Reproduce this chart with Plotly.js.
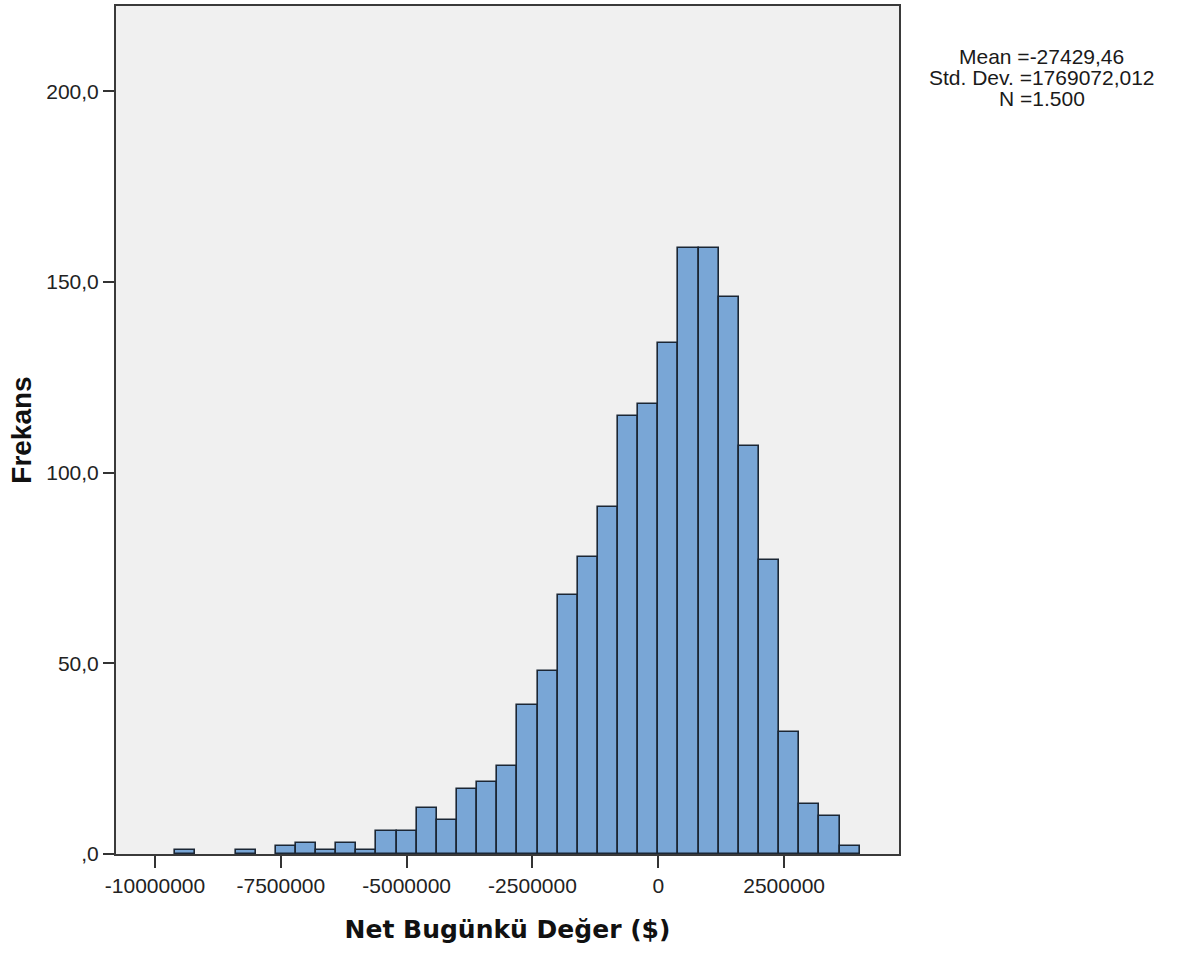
<!DOCTYPE html>
<html>
<head>
<meta charset="utf-8">
<script src="https://cdn.plot.ly/plotly-3.0.1.min.js"></script>
<style>
  html, body { margin: 0; padding: 0; background: #ffffff; }
  #chart { width: 1177px; height: 953px; }
</style>
</head>
<body>
<div id="chart"></div>
<script>
// Lower edges of the histogram bins (Net Bugünkü Değer, $)
const binLowerEdges = [
  -10000000, -9600000, -9200000, -8800000, -8400000, -8000000, -7600000,
  -7200000, -6800000, -6400000, -6000000, -5600000, -5200000, -4800000,
  -4400000, -4000000, -3600000, -3200000, -2800000, -2400000, -2000000,
  -1600000, -1200000, -800000, -400000, 0, 400000, 800000, 1200000,
  1600000, 2000000, 2400000, 2800000, 3200000, 3600000
];
const binWidth = 400000;
// Frequencies per bin
const frequencies = [
  0, 1, 0, 0, 1, 0, 2,
  3, 1, 3, 1, 6, 6, 12,
  9, 17, 19, 23, 39, 48, 68,
  78, 91, 115, 118, 134, 159, 159, 146,
  107, 77, 32, 13, 10, 2
];
// Axis ticks
const xTickValues = [-10000000, -7500000, -5000000, -2500000, 0, 2500000];
const xTickLabels = ["-10000000", "-7500000", "-5000000", "-2500000", "0", "2500000"];
const yTickValues = [0, 50, 100, 150, 200];
const yTickLabels = [",0", "50,0", "100,0", "150,0", "200,0"];
// Summary statistics
const statsLines = ["Mean =-27429,46", "Std. Dev. =1769072,012", "N =1.500"];

const trace = {
  type: "bar",
  x: binLowerEdges,
  // empty bins are not drawn at all
  y: frequencies.map(v => (v === 0 ? null : v)),
  width: binWidth,
  offset: 0,
  marker: {
    color: "#79a6d6",
    line: { color: "#1b2634", width: 1.6 }
  },
  hoverinfo: "x+y"
};

const statY = [0.9405, 0.9158, 0.8911];
const annotations = statsLines.map((t, i) => ({
  text: t,
  xref: "paper", yref: "paper",
  x: 1.1826, y: statY[i],
  xanchor: "center", yanchor: "middle",
  showarrow: false,
  font: { family: "Liberation Sans, Arial, sans-serif", size: 21, color: "#1a1a1a" }
}));

const layout = {
  width: 1177,
  height: 953,
  margin: { l: 116, r: 278, t: 6, b: 99, pad: 0 },
  paper_bgcolor: "#ffffff",
  plot_bgcolor: "#f0f0f0",
  showlegend: false,
  bargap: 0,
  xaxis: {
    range: [-10775000, 4782000],
    tickvals: xTickValues,
    ticktext: xTickLabels,
    ticks: "outside",
    ticklen: 12,
    tickwidth: 2,
    tickcolor: "#333333",
    showline: true,
    linecolor: "#3a3a3a",
    linewidth: 2,
    mirror: true,
    showgrid: false,
    zeroline: false,
    automargin: false,
    tickfont: { family: "Liberation Sans, Arial, sans-serif", size: 21, color: "#222222" },
    title: {
      text: "Net Bugünkü Değer ($)",
      font: { family: "DejaVu Sans, sans-serif", size: 25, color: "#111111", weight: "bold" },
      standoff: 24
    }
  },
  yaxis: {
    range: [0, 222.4],
    tickvals: yTickValues,
    ticktext: yTickLabels,
    ticks: "outside",
    ticklen: 11,
    tickwidth: 2,
    tickcolor: "#333333",
    showline: true,
    linecolor: "#3a3a3a",
    linewidth: 2,
    mirror: true,
    showgrid: false,
    zeroline: false,
    automargin: false,
    tickfont: { family: "Liberation Sans, Arial, sans-serif", size: 21, color: "#222222" },
    title: {
      text: "Frekans",
      font: { family: "Liberation Sans, Arial, sans-serif", size: 28, color: "#111111", weight: "bold" },
      standoff: 6
    }
  },
  annotations: annotations
};

Plotly.newPlot("chart", [trace], layout, { displayModeBar: false, responsive: false });
</script>
</body>
</html>
